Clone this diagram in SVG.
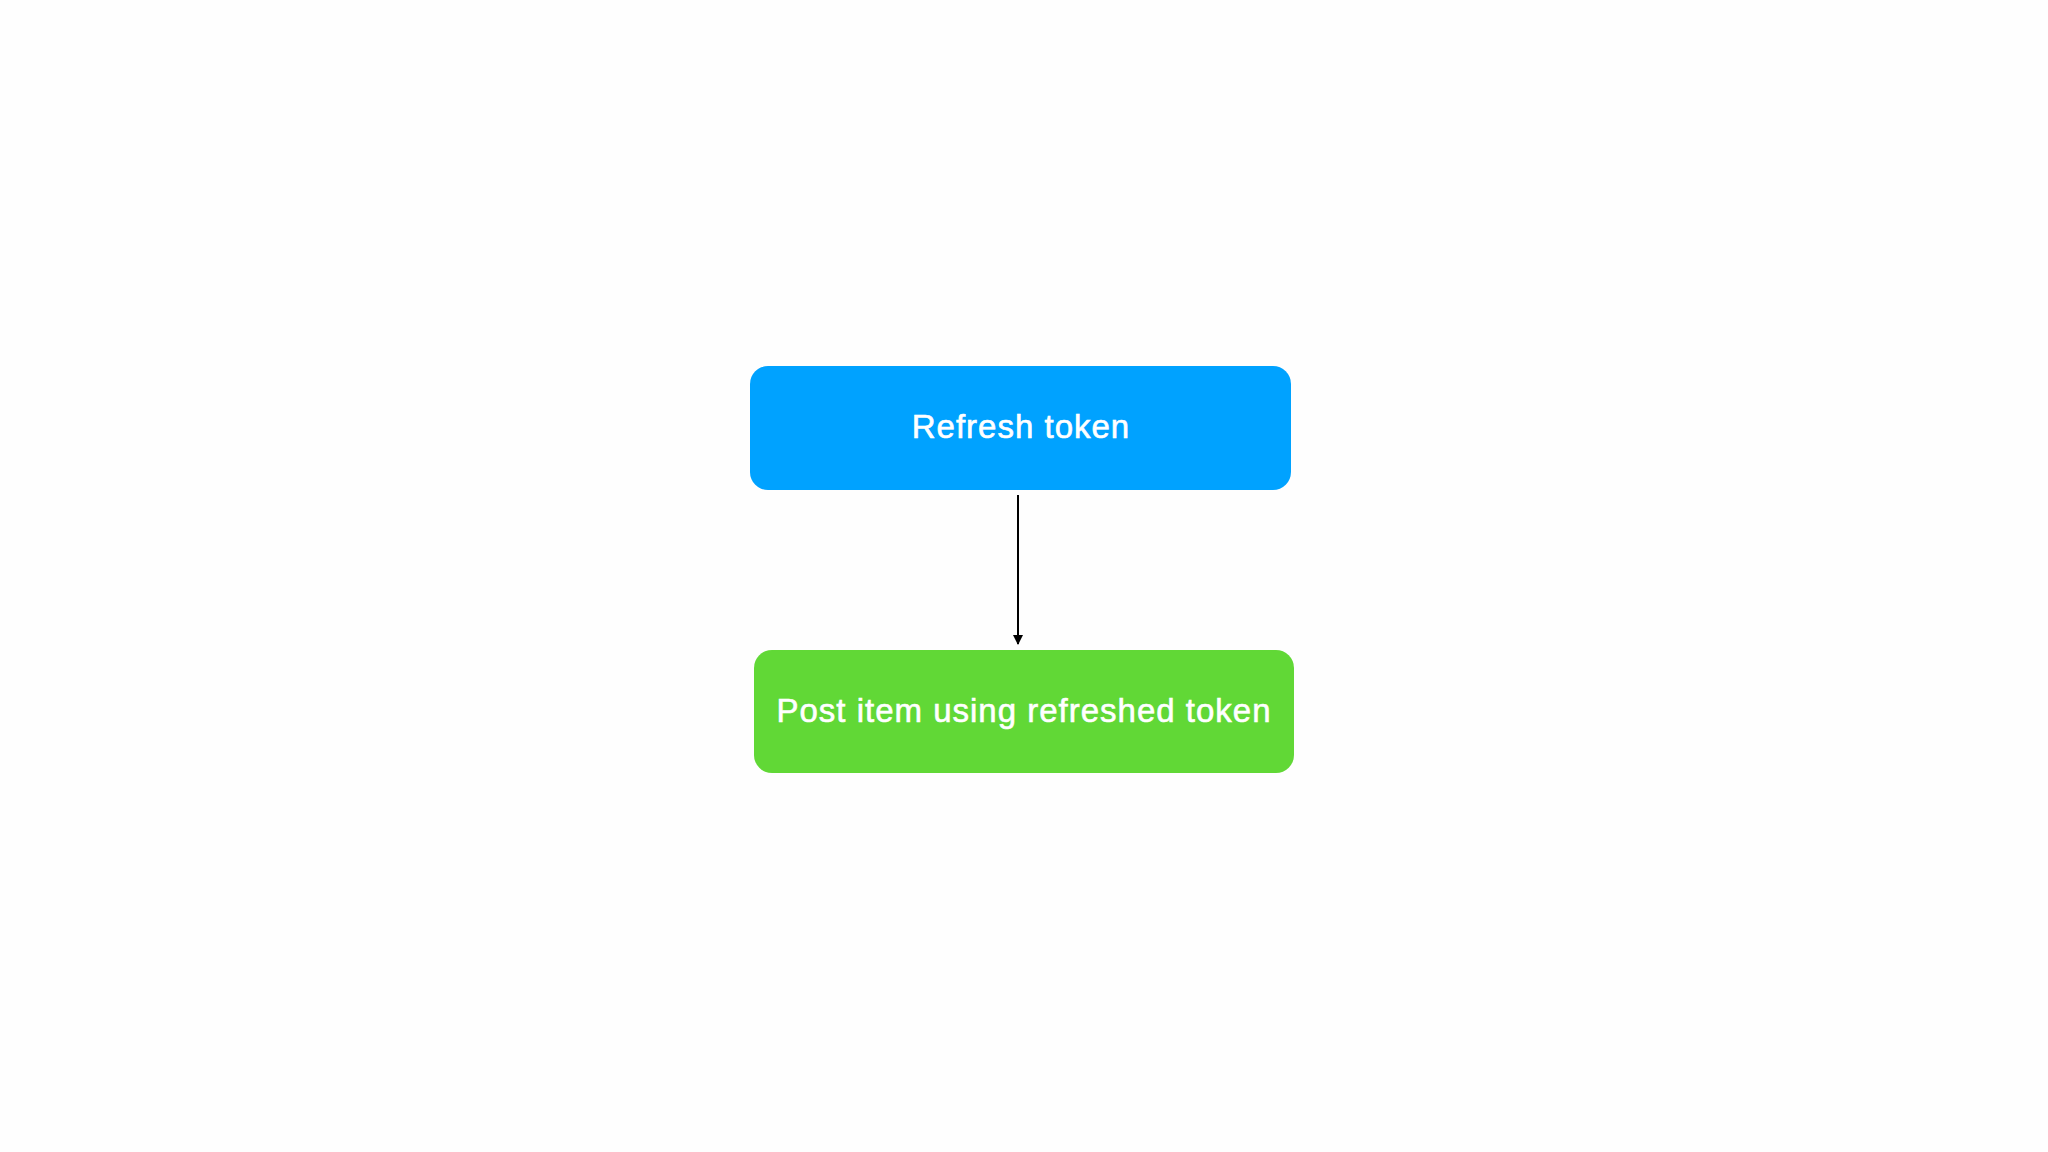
<svg xmlns="http://www.w3.org/2000/svg" width="2048" height="1152" viewBox="0 0 2048 1152">
  <style>
    .lbl { font-family: "Liberation Sans", Arial, sans-serif; font-size: 33px; letter-spacing: 1px; fill: #ffffff; stroke: #ffffff; stroke-width: 0.6; text-anchor: middle; }
    .conn { stroke: #000000; stroke-width: 2; fill: none; }
  </style>
  <defs>
    <marker id="arrow" markerWidth="10" markerHeight="10" refX="9" refY="5" orient="auto" markerUnits="userSpaceOnUse">
      <path d="M0,0 L10,5 L0,10 Z" fill="#000000"/>
    </marker>
  </defs>
  <rect width="2048" height="1152" fill="#fefefe"/>
  <g id="node-refresh">
    <rect x="750" y="366" width="541" height="124" rx="18" fill="#00A2FF"/>
    <text class="lbl" x="1021" y="438">Refresh token</text>
  </g>
  <g id="node-post">
    <rect x="754" y="650" width="540" height="123" rx="18" fill="#61D836"/>
    <text class="lbl" x="1024" y="722">Post item using refreshed token</text>
  </g>
  <g id="connectors">
    <line class="conn" x1="1018" y1="495" x2="1018" y2="644" marker-end="url(#arrow)"/>
  </g>
</svg>
